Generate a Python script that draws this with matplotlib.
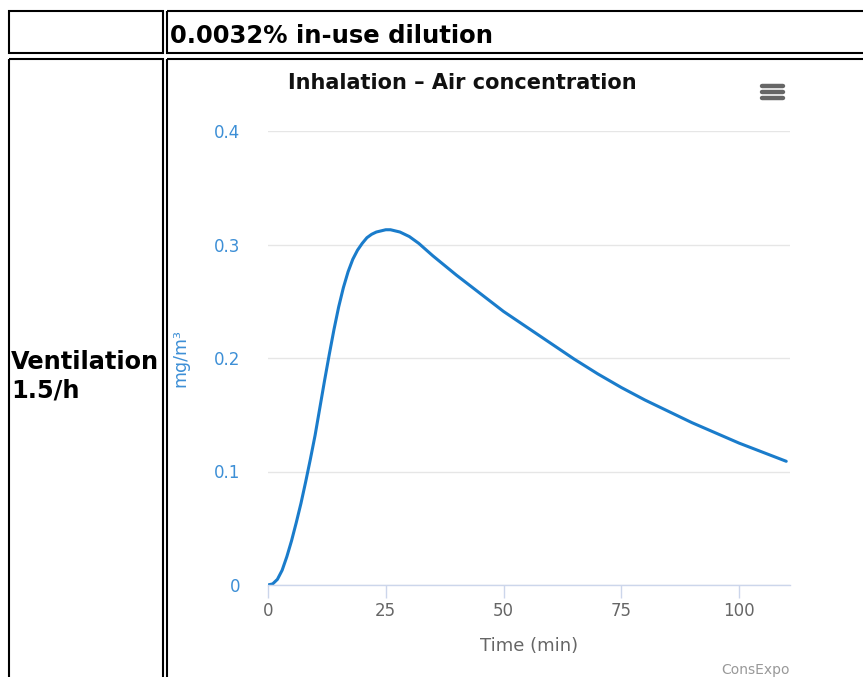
import matplotlib
matplotlib.use('Agg')

import matplotlib.pyplot as plt
from matplotlib.patches import Rectangle

# =========================
# DATA
# =========================
time_min = [0, 1, 2, 3, 4, 5, 6, 7, 8, 9, 10, 11, 12, 13, 14, 15, 16, 17, 18, 19,
            20, 21, 22, 23, 24, 25, 26, 27, 28, 30, 32, 35, 40, 45, 50, 55, 60,
            65, 70, 75, 80, 85, 90, 95, 100, 105, 110]
air_conc = [0.0, 0.001, 0.005, 0.013, 0.025, 0.039, 0.055, 0.072, 0.091, 0.111,
            0.132, 0.156, 0.180, 0.203, 0.225, 0.245, 0.262, 0.276, 0.287, 0.295,
            0.301, 0.306, 0.309, 0.311, 0.312, 0.313, 0.313, 0.312, 0.311, 0.307,
            0.301, 0.290, 0.273, 0.257, 0.241, 0.227, 0.213, 0.199, 0.186, 0.174,
            0.163, 0.153, 0.143, 0.134, 0.125, 0.117, 0.109]

x_ticks = [0, 25, 50, 75, 100]
y_ticks = [0, 0.1, 0.2, 0.3, 0.4]
y_tick_labels = ["0", "0.1", "0.2", "0.3", "0.4"]

header_text = "0.0032% in-use dilution"
row_lines = ["Ventilation", "1.5/h"]
chart_title = "Inhalation \u2013 Air concentration"

W, H = 863, 677
LINE_BLUE = "#1a7ccb"
TICK_BLUE = "#3d8fd6"
GREY = "#666666"

fig = plt.figure(figsize=(W / 100, H / 100), dpi=100)
fig.patch.set_facecolor("white")

# --- table layer in pixel coords ---
bg = fig.add_axes([0, 0, 1, 1], zorder=0)
bg.set_xlim(0, W)
bg.set_ylim(H, 0)
bg.axis("off")

lw = 1.5
cells = [
    (9, 11, 162.5 - 9, 53 - 11),       # row 1, left
    (167, 11, W + 20 - 167, 53 - 11),  # row 1, right
    (9, 59, 162.5 - 9, H + 20 - 59),   # row 2, left
    (167, 59, W + 20 - 167, H + 20 - 59),
]
for cx, cy, cw, ch in cells:
    bg.add_patch(Rectangle((cx, cy), cw, ch, fill=False, edgecolor="black",
                           linewidth=lw, clip_on=False))

bg.text(170, 36, header_text, fontsize=17.5, fontweight="bold",
        family="DejaVu Sans", va="center", ha="left")
for i, line in enumerate(row_lines):
    bg.text(11, 362 + 28 * i, line, fontsize=17.3, fontweight="bold",
            family="DejaVu Sans", va="center", ha="left")

# --- chart ---
ax = fig.add_axes([268 / W, 1 - 585 / H, (790 - 268) / W, (585 - 131) / H], zorder=1)
ax.set_facecolor("none")
ax.plot(time_min, air_conc, color=LINE_BLUE, linewidth=2.2,
        solid_capstyle="round", solid_joinstyle="round")

ax.set_xlim(0, 110.8)
ax.set_ylim(0, 0.4)
ax.set_xticks(x_ticks)
ax.set_yticks(y_ticks)
ax.set_yticklabels(y_tick_labels)

ax.grid(axis="y", color="#e6e6e6", linewidth=1)
ax.set_axisbelow(True)
for side in ["top", "right", "left"]:
    ax.spines[side].set_visible(False)
ax.spines["bottom"].set_color("#ccd6eb")
ax.spines["bottom"].set_linewidth(1)

ax.tick_params(axis="x", colors="#ccd6eb", length=9, width=1, labelcolor=GREY,
               labelsize=12, pad=3)
ax.tick_params(axis="y", length=0, labelcolor=TICK_BLUE, labelsize=12, pad=20)

ax.set_xlabel("Time (min)", fontsize=13, color=GREY)
ax.xaxis.set_label_coords(0.5, -0.115)
ax.set_ylabel("mg/m\u00b3", fontsize=12.5, color=TICK_BLUE)
ax.yaxis.set_label_coords(-0.15, 0.5)

# title, menu icon, credits
bg.text(462, 83, chart_title, fontsize=15, fontweight="bold", ha="center",
        va="center", color="#111111")
for yy in [86, 92, 98]:
    bg.plot([762, 783], [yy, yy], color=GREY, linewidth=3.2, solid_capstyle="round")
bg.text(790, 670, "ConsExpo", fontsize=10, color="#999999", ha="right", va="center")

fig.savefig("out.png", dpi=100, facecolor="white")
